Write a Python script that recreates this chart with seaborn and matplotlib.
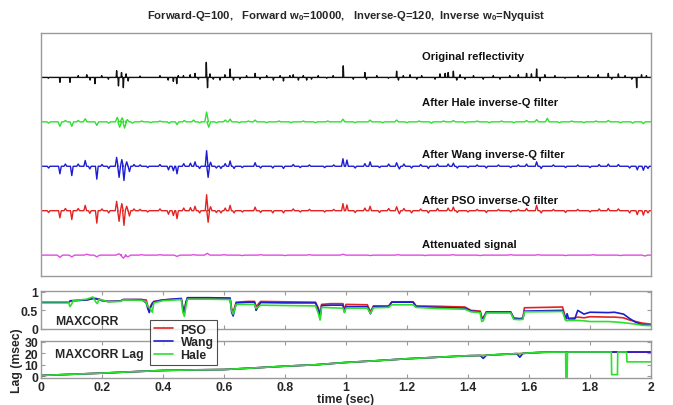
import numpy as np
import pandas as pd
import matplotlib
matplotlib.use("Agg")
import matplotlib.pyplot as plt
import seaborn as sns

# ---------------- data ----------------
# Original reflectivity: spike times (s) and amplitudes
refl_t = [0.024, 0.062, 0.095, 0.122, 0.150, 0.161, 0.177, 0.199, 0.221, 0.248, 0.254, 0.264, 0.270,
          0.279, 0.286, 0.325, 0.390, 0.417, 0.434, 0.445, 0.450, 0.467, 0.489, 0.505, 0.516, 0.542,
          0.546, 0.554, 0.565, 0.587, 0.603, 0.620, 0.631, 0.652, 0.674, 0.702, 0.718, 0.740, 0.762,
          0.784, 0.795, 0.816, 0.827, 0.844, 0.860, 0.871, 0.887, 0.909, 0.937, 0.958, 0.991,
          1.024, 1.062, 1.067, 1.101, 1.139, 1.166, 1.172, 1.188, 1.210, 1.232, 1.248, 1.292, 1.308,
          1.325, 1.335, 1.352, 1.363, 1.374, 1.390, 1.418, 1.450, 1.483, 1.505, 1.537, 1.565, 1.592,
          1.608, 1.625, 1.636, 1.652, 1.685, 1.718, 1.761, 1.794, 1.827, 1.860, 1.871, 1.893, 1.915,
          1.937, 1.953, 1.969, 1.985]
refl_a = [-0.02, -0.11, -0.11, 0.04, 0.06, -0.06, -0.14, 0.04, -0.04, 0.15, -0.19, 0.11, -0.23,
          0.08, -0.08, 0.03, 0.04, -0.06, -0.09, -0.14, 0.04, 0.04, 0.06, 0.09, -0.04, 0.34,
          -0.23, 0.08, -0.04, -0.06, 0.06, 0.19, -0.06, -0.04, 0.04, 0.09, -0.04, 0.04, -0.06,
          0.04, -0.08, 0.04, 0.06, -0.06, 0.04, -0.06, -0.04, 0.04, -0.02, 0.04, 0.26,
          -0.04, 0.11, -0.04, 0.04, -0.02, 0.14, -0.06, 0.04, 0.06, -0.04, 0.04, -0.04, 0.08,
          0.09, 0.11, 0.14, -0.06, 0.06, -0.04, 0.04, -0.04, 0.04, -0.04, 0.04, 0.06, 0.09,
          0.08, 0.19, -0.08, 0.06, 0.04, -0.02, 0.04, 0.04, 0.06, 0.09, -0.04, 0.08, 0.04,
          -0.04, -0.23, 0.06, 0.04]

# Wang inverse-Q filtered trace (event times and amplitudes)
wang_t = [0.025, 0.062, 0.080, 0.101, 0.122, 0.145, 0.160, 0.183, 0.200, 0.222, 0.248, 0.256, 0.265,
          0.272, 0.281, 0.290, 0.305, 0.325, 0.350, 0.390, 0.418, 0.434, 0.446, 0.468, 0.490, 0.505,
          0.520, 0.543, 0.548, 0.556, 0.575, 0.590, 0.604, 0.620, 0.633, 0.660, 0.702, 0.720, 0.760,
          0.795, 0.827, 0.850, 0.880, 0.930, 0.960, 0.990, 1.003, 1.030, 1.062, 1.079, 1.110, 1.140,
          1.166, 1.175, 1.190, 1.215, 1.245, 1.270, 1.300, 1.335, 1.352, 1.365, 1.400, 1.430, 1.460,
          1.500, 1.540, 1.565, 1.592, 1.625, 1.640, 1.680, 1.720, 1.760, 1.800, 1.830, 1.860, 1.893,
          1.930, 1.955, 1.975, 1.990]
wang_a = [-0.04, -0.17, 0.05, -0.21, 0.05, 0.13, -0.06, -0.29, 0.04, -0.05, 0.20, -0.25, 0.15,
          -0.32, 0.10, -0.12, 0.04, 0.03, -0.03, 0.04, -0.08, -0.10, -0.17, 0.06, 0.07, 0.10,
          -0.05, 0.35, -0.25, 0.09, -0.04, -0.05, 0.06, 0.12, -0.05, -0.03, 0.08, -0.04, -0.04,
          -0.05, 0.04, -0.03, 0.03, -0.03, 0.03, 0.17, 0.14, -0.04, 0.06, 0.10, -0.03, 0.05,
          0.08, -0.06, 0.05, -0.04, 0.04, -0.05, 0.05, 0.05, 0.07, -0.04, -0.03, 0.03, -0.04,
          0.03, -0.03, 0.03, 0.05, 0.10, -0.05, 0.03, -0.03, 0.03, -0.03, 0.04, 0.05, 0.04,
          -0.04, -0.08, -0.09, -0.05]

# PSO inverse-Q filtered trace
pso_t = wang_t
pso_a = [-0.04, -0.16, 0.05, -0.20, 0.05, 0.12, -0.06, -0.28, 0.04, -0.05, 0.21, -0.24, 0.16,
         -0.33, 0.10, -0.12, 0.04, 0.03, -0.03, 0.04, -0.08, -0.11, -0.18, 0.06, 0.07, 0.10,
         -0.05, 0.36, -0.26, 0.09, -0.04, -0.05, 0.06, 0.12, -0.05, -0.03, 0.08, -0.04, -0.05,
         -0.05, 0.04, -0.03, 0.03, -0.03, 0.03, 0.16, 0.13, -0.04, 0.06, 0.10, -0.04, 0.05,
         0.09, -0.07, 0.05, -0.05, 0.04, -0.05, 0.05, 0.06, 0.08, -0.04, -0.03, 0.03, -0.04,
         0.03, -0.03, 0.03, 0.05, 0.12, -0.05, 0.03, -0.04, 0.03, -0.03, 0.04, 0.05, 0.04,
         -0.05, -0.09, -0.10, -0.05]

# Hale inverse-Q filtered trace
hale_t = [0.025, 0.062, 0.080, 0.101, 0.122, 0.145, 0.183, 0.222, 0.250, 0.258, 0.266, 0.274, 0.283,
          0.300, 0.330, 0.360, 0.390, 0.420, 0.446, 0.470, 0.500, 0.520, 0.543, 0.550, 0.575, 0.604,
          0.620, 0.650, 0.680, 0.702, 0.740, 0.780, 0.820, 0.860, 0.900, 0.940, 0.990, 1.030,
          1.079, 1.120, 1.166, 1.200, 1.240, 1.280, 1.320, 1.352, 1.390, 1.430, 1.470, 1.510,
          1.550, 1.592, 1.625, 1.660, 1.700, 1.740, 1.780, 1.820, 1.860, 1.900, 1.940, 1.975]
hale_a = [-0.03, -0.10, 0.03, -0.10, 0.03, 0.07, -0.08, -0.03, 0.10, -0.12, 0.09, -0.14, 0.05,
          -0.03, 0.02, -0.02, 0.02, -0.03, -0.06, 0.03, 0.04, -0.02, 0.22, -0.12, -0.02, 0.04,
          0.06, -0.02, 0.02, 0.04, -0.02, 0.02, -0.02, 0.02, -0.02, 0.02, 0.06, -0.02,
          0.04, -0.02, 0.04, -0.02, 0.02, -0.03, 0.02, 0.03, -0.02, 0.02, -0.02, 0.02,
          -0.02, 0.03, 0.05, 0.08, -0.02, 0.02, -0.02, 0.02, 0.03, -0.02, -0.03, -0.04]

# Attenuated signal
atten_t = [0.062, 0.101, 0.150, 0.183, 0.255, 0.270, 0.285, 0.330, 0.390, 0.446, 0.500, 0.545,
           0.600, 0.660, 0.720, 0.800, 0.880, 0.990, 1.080, 1.170, 1.260, 1.350, 1.440, 1.540,
           1.630, 1.720, 1.810, 1.900, 1.980]
atten_a = [-0.05, -0.04, 0.02, -0.04, 0.03, -0.07, -0.04, 0.01, 0.01, -0.03, 0.01, 0.04,
           0.01, -0.01, 0.01, -0.01, 0.01, 0.02, -0.01, 0.01, -0.01, 0.01, -0.01, 0.01,
           0.01, -0.01, 0.01, -0.01, -0.02]

trace_names = ["Original reflectivity", "After Hale inverse-Q filter", "After Wang inverse-Q filter",
               "After PSO inverse-Q filter", "Attenuated signal"]

# MAXCORR (0..1) vs time
mc_t = [0.00, 0.09, 0.095, 0.10, 0.105, 0.15, 0.17, 0.18, 0.185, 0.19, 0.20, 0.22, 0.26, 0.27, 0.33,
        0.345, 0.35, 0.355, 0.36, 0.365, 0.37, 0.40, 0.46, 0.465, 0.47, 0.475, 0.48, 0.55, 0.62,
        0.625, 0.63, 0.64, 0.68, 0.70, 0.705, 0.72, 0.80, 0.90, 0.91, 0.915, 0.92, 0.95, 0.99,
        0.995, 1.00, 1.07, 1.08, 1.09, 1.14, 1.15, 1.22, 1.23, 1.30, 1.39, 1.41, 1.44, 1.445,
        1.45, 1.46, 1.54, 1.55, 1.57, 1.58, 1.585, 1.71, 1.72, 1.725, 1.73, 1.75, 1.76, 1.78,
        1.80, 1.86, 1.88, 1.91, 1.93, 1.95, 1.97, 2.00]
mc_pso = [0.72, 0.72, 0.74, 0.76, 0.76, 0.78, 0.82, 0.82, 0.81, 0.80, 0.77, 0.74, 0.75, 0.79, 0.79,
          0.78, 0.62, 0.52, 0.62, 0.70, 0.74, 0.78, 0.81, 0.60, 0.50, 0.70, 0.83, 0.83, 0.82,
          0.55, 0.45, 0.72, 0.74, 0.74, 0.60, 0.74, 0.73, 0.72, 0.55, 0.38, 0.66, 0.68, 0.68,
          0.50, 0.66, 0.65, 0.46, 0.62, 0.62, 0.73, 0.73, 0.62, 0.61, 0.59, 0.50, 0.48, 0.32,
          0.30, 0.46, 0.46, 0.30, 0.28, 0.30, 0.57, 0.59, 0.30, 0.28, 0.29, 0.30, 0.32, 0.30,
          0.33, 0.32, 0.32, 0.30, 0.24, 0.20, 0.16, 0.13]
mc_wang = [0.71, 0.71, 0.75, 0.76, 0.76, 0.78, 0.82, 0.81, 0.80, 0.80, 0.76, 0.74, 0.75, 0.79, 0.79,
           0.70, 0.55, 0.44, 0.60, 0.68, 0.73, 0.78, 0.82, 0.55, 0.42, 0.72, 0.84, 0.84, 0.83,
           0.45, 0.35, 0.70, 0.72, 0.72, 0.50, 0.71, 0.70, 0.70, 0.50, 0.30, 0.63, 0.64, 0.64,
           0.45, 0.60, 0.60, 0.41, 0.60, 0.60, 0.72, 0.72, 0.60, 0.58, 0.56, 0.48, 0.46, 0.29,
           0.28, 0.45, 0.45, 0.28, 0.27, 0.28, 0.48, 0.50, 0.26, 0.41, 0.27, 0.27, 0.50, 0.40,
           0.45, 0.44, 0.45, 0.40, 0.28, 0.18, 0.12, 0.10]
mc_hale = [0.73, 0.73, 0.60, 0.66, 0.76, 0.80, 0.86, 0.72, 0.68, 0.80, 0.78, 0.73, 0.74, 0.78, 0.77,
           0.72, 0.60, 0.58, 0.52, 0.45, 0.70, 0.76, 0.79, 0.45, 0.34, 0.60, 0.80, 0.80, 0.79,
           0.50, 0.40, 0.66, 0.66, 0.66, 0.55, 0.64, 0.63, 0.62, 0.40, 0.24, 0.58, 0.57, 0.56,
           0.44, 0.56, 0.56, 0.42, 0.57, 0.58, 0.65, 0.65, 0.58, 0.55, 0.53, 0.46, 0.44, 0.20,
           0.22, 0.43, 0.43, 0.26, 0.25, 0.26, 0.46, 0.47, 0.23, 0.22, 0.23, 0.23, 0.23, 0.22,
           0.20, 0.20, 0.19, 0.17, 0.15, 0.13, 0.10, 0.09]

# MAXCORR lag (msec) vs time
lag_t = [0.00, 0.10, 0.20, 0.30, 0.40, 0.50, 0.60, 0.70, 0.80, 0.90, 1.00, 1.10, 1.20, 1.30, 1.40,
         1.44, 1.45, 1.46, 1.50, 1.56, 1.57, 1.58, 1.60, 1.65, 1.72, 1.721, 1.725, 1.726, 1.80,
         1.85, 1.87, 1.871, 1.89, 1.891, 1.92, 1.921, 2.00]
lag_pso = [0.8, 1.8, 2.8, 4.0, 5.1, 5.6, 5.9, 7.3, 8.8, 10.0, 12.0, 13.5, 15.2, 16.5, 17.8,
           18.0, 18.0, 18.2, 18.8, 19.6, 19.6, 19.8, 20.2, 20.8, 21.0, 21.0, 21.0, 21.0, 21.0,
           21.0, 21.0, 21.0, 21.0, 21.0, 21.0, 21.0, 21.0]
lag_wang = [0.8, 1.8, 2.8, 4.0, 5.1, 5.6, 5.9, 7.3, 8.8, 10.0, 12.0, 13.5, 15.2, 16.5, 17.8,
            18.0, 15.5, 18.2, 18.8, 19.6, 16.5, 19.8, 20.2, 20.8, 21.0, 21.0, 21.0, 21.0, 21.0,
            21.0, 21.0, 21.0, 21.0, 21.0, 21.0, 21.0, 21.0]
lag_hale = [0.8, 1.8, 2.8, 4.0, 5.1, 5.6, 5.9, 7.3, 8.8, 10.0, 12.0, 13.5, 15.2, 16.5, 17.8,
            18.0, 18.0, 18.2, 18.8, 19.6, 19.6, 19.8, 20.2, 20.8, 21.0, -1.0, -1.0, 21.0, 21.0,
            21.0, 21.0, 1.5, 1.5, 21.0, 21.0, 12.5, 12.5]

method_names = ["PSO", "Wang", "Hale"]
time_ticks = [0, 0.2, 0.4, 0.6, 0.8, 1, 1.2, 1.4, 1.6, 1.8, 2]
tick_labels = ["0", "0.2", "0.4", "0.6", "0.8", "1", "1.2", "1.4", "1.6", "1.8", "2"]
title_text = "Forward-Q=100,   Forward w$_0$=10000,   Inverse-Q=120,  Inverse w$_0$=Nyquist"

# ---------------- styling ----------------
sns.set_style("white")
plt.rcParams["font.family"] = ["Liberation Sans", "DejaVu Sans"]
plt.rcParams["font.weight"] = "bold"
plt.rcParams["mathtext.default"] = "regular"

C_BLACK, C_GREEN, C_BLUE, C_RED, C_MAG = "#111111", "#2ee02e", "#1c1cd2", "#e42222", "#e04ce0"
FRAME = "#9a9a9a"
FS = 8.8

W, H = 673, 406
fig = plt.figure(figsize=(W / 100, H / 100), dpi=100)


def box(px_left, px_top, px_right, px_bottom):
    return [px_left / W, 1 - px_bottom / H, (px_right - px_left) / W, (px_bottom - px_top) / H]


ax_tr = fig.add_axes(box(41, 34, 651, 277))
ax_mc = fig.add_axes(box(41, 292, 651, 330))
ax_lag = fig.add_axes(box(41, 342, 651, 379))


def spike_path(ts, amps, hw, offset):
    xs, ys = [0.0], [offset]
    for t, a in zip(ts, amps):
        xs += [t - hw, t, t + hw]
        ys += [offset, offset + a, offset]
    xs.append(2.0)
    ys.append(offset)
    return xs, ys


traces = [
    (refl_t, refl_a, 0.0016, 5.0, C_BLACK, 1.0),
    (hale_t, hale_a, 0.006, 4.0, C_GREEN, 1.0),
    (wang_t, wang_a, 0.0045, 3.0, C_BLUE, 1.0),
    (pso_t, pso_a, 0.0045, 2.0, C_RED, 1.0),
    (atten_t, atten_a, 0.009, 1.0, C_MAG, 1.0),
]
for ts, amps, hw, off, col, lw in traces:
    xs, ys = spike_path(ts, amps, hw, off)
    sns.lineplot(x=xs, y=ys, ax=ax_tr, color=col, lw=lw, estimator=None, sort=False)

label_y = [5.474, 4.440, 3.272, 2.238, 1.249]
for name, ly in zip(trace_names, label_y):
    ax_tr.text(1.249, ly, name, fontsize=8.1, fontweight="bold", va="center", ha="left", color="#111111")

ax_tr.set_xlim(0, 2)
ax_tr.set_ylim(0.53, 6.0)
ax_tr.set_xticks([])
ax_tr.set_yticks([])

# MAXCORR panel
for vals, name, col in zip([mc_pso, mc_wang, mc_hale], method_names, [C_RED, C_BLUE, C_GREEN]):
    sns.lineplot(x=mc_t, y=vals, ax=ax_mc, color=col, lw=1.2, label=name, estimator=None, sort=False)
ax_mc.set_xlim(0, 2)
ax_mc.set_ylim(0, 1.02)
ax_mc.set_yticks([0, 0.5, 1])
ax_mc.set_yticklabels(["0", "0.5", "1"])
ax_mc.set_xticks(time_ticks)
ax_mc.set_xticklabels([])
ax_mc.text(0.023, 0.22, "MAXCORR", transform=ax_mc.transAxes, fontsize=FS, fontweight="bold",
           va="center", ha="left")
handles, labels = ax_mc.get_legend_handles_labels()
ax_mc.get_legend().remove()

# Lag panel
for vals, col in zip([lag_pso, lag_wang, lag_hale], [C_RED, C_BLUE, C_GREEN]):
    sns.lineplot(x=lag_t, y=vals, ax=ax_lag, color=col, lw=1.2, estimator=None, sort=False)
ax_lag.set_xlim(0, 2)
ax_lag.set_ylim(-1.4, 30.5)
ax_lag.set_yticks([0, 10, 20, 30])
ax_lag.set_yticklabels(["0", "10", "20", "30"])
ax_lag.set_xticks(time_ticks)
ax_lag.set_xticklabels(tick_labels)
ax_lag.text(0.023, 0.64, "MAXCORR Lag", transform=ax_lag.transAxes, fontsize=FS, fontweight="bold",
            va="center", ha="left")
ax_lag.set_xlabel("time (sec)", fontsize=FS, fontweight="bold", labelpad=0)
ax_lag.set_ylabel("Lag (msec)", fontsize=FS, fontweight="bold", labelpad=1)

for ax in (ax_tr, ax_mc, ax_lag):
    for s in ax.spines.values():
        s.set_color(FRAME)
        s.set_linewidth(1.0)
for ax in (ax_mc, ax_lag):
    ax.tick_params(direction="in", length=3, width=0.8, color=FRAME, top=True, right=True,
                   bottom=True, left=True, labelsize=FS, pad=2)
    for lab in ax.get_yticklabels() + ax.get_xticklabels():
        lab.set_fontweight("bold")

leg = fig.legend(handles, labels, loc="upper left", bbox_to_anchor=(150 / W, 1 - 321 / H),
                 frameon=True, handlelength=1.6, handletextpad=0.6,
                 labelspacing=0.05, borderpad=0.3, borderaxespad=0, fancybox=False,
                 prop={"weight": "bold", "size": FS})
leg.get_frame().set_edgecolor("#222222")
leg.get_frame().set_linewidth(0.8)
leg.set_zorder(10)

fig.text(346 / W, 1 - 16 / H, title_text, ha="center", va="center", fontsize=8.1, fontweight="bold")

fig.savefig("out.png", dpi=100)
